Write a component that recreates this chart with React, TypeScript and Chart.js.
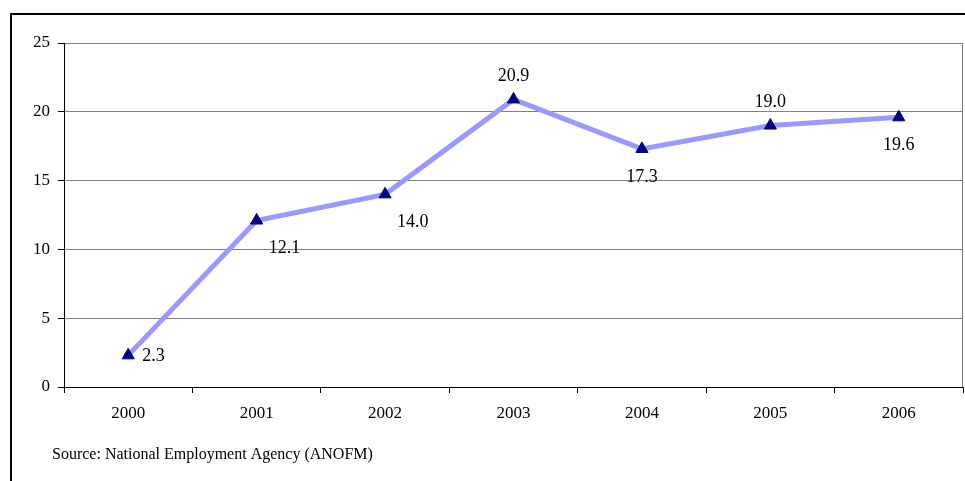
import React, { useEffect, useRef } from "react";
import { Chart, registerables } from "chart.js";

Chart.register(...registerables);

const years = ["2000", "2001", "2002", "2003", "2004", "2005", "2006"];
const values = [2.3, 12.1, 14.0, 20.9, 17.3, 19.0, 19.6];
const labelSpots = ["right", "belowRight", "belowRight", "above", "below", "above", "below"];
const sourceNote = "Source: National Employment Agency (ANOFM)";

const FONT = "'Liberation Serif', 'Times New Roman', serif";

const framePlugin = {
  id: "frame",
  beforeDraw(chart: any) {
    const ctx = chart.ctx;
    ctx.save();
    ctx.fillStyle = "#fff";
    ctx.fillRect(0, 0, chart.width, chart.height);
    ctx.strokeStyle = "#000";
    ctx.lineWidth = 2;
    ctx.beginPath();
    ctx.moveTo(11, chart.height);
    ctx.lineTo(11, 14);
    ctx.lineTo(chart.width, 14);
    ctx.stroke();
    ctx.restore();
  },
  afterDraw(chart: any) {
    const ctx = chart.ctx;
    const a = chart.chartArea;
    ctx.save();
    ctx.strokeStyle = "#808080";
    ctx.lineWidth = 1;
    ctx.beginPath();
    ctx.moveTo(Math.round(a.right) - 0.5, a.top);
    ctx.lineTo(Math.round(a.right) - 0.5, a.bottom);
    ctx.stroke();

    ctx.fillStyle = "#000";
    ctx.font = `18px ${FONT}`;
    ctx.textBaseline = "middle";
    const meta = chart.getDatasetMeta(0);
    meta.data.forEach((pt: any, i: number) => {
      const txt = values[i].toFixed(1);
      const spot = labelSpots[i];
      let x = pt.x;
      let y = pt.y;
      ctx.textAlign = "center";
      if (spot === "right") {
        ctx.textAlign = "left";
        x += 14;
        y += 1;
      } else if (spot === "belowRight") {
        ctx.textAlign = "left";
        x += 12;
        y += 28;
      } else if (spot === "above") {
        y -= 23;
      } else if (spot === "below") {
        y += 28;
      }
      ctx.fillText(txt, x, y);
    });

    ctx.textAlign = "left";
    ctx.font = `16px ${FONT}`;
    ctx.fillText(sourceNote, 52, 455);
    ctx.restore();
  },
};

export default function App() {
  const ref = useRef<HTMLCanvasElement>(null);
  useEffect(() => {
    const chart = new Chart(ref.current!, {
      type: "line",
      data: {
        labels: years,
        datasets: [
          {
            data: values,
            borderColor: "#9999FF",
            borderWidth: 5,
            pointStyle: "triangle",
            pointRadius: 7,
            pointHoverRadius: 7,
            pointBackgroundColor: "#000080",
            pointBorderColor: "#000080",
            pointBorderWidth: 1,
            tension: 0,
          },
        ],
      },
      options: {
        responsive: false,
        animation: false,
        events: [],
        layout: { autoPadding: false, padding: { left: 0, top: 43, right: 2, bottom: 0 } },
        plugins: {
          legend: { display: false },
          tooltip: { enabled: false },
        },
        scales: {
          x: {
            offset: true,
            grid: {
              offset: true,
              drawOnChartArea: false,
              drawTicks: true,
              tickLength: 6,
              color: "#000",
            },
            border: { color: "#000", width: 1 },
            ticks: {
              color: "#000",
              font: { family: FONT, size: 17 },
              padding: 10,
              maxRotation: 0,
            },
            afterFit(scale: any) {
              scale.height = 94;
            },
          },
          y: {
            min: 0,
            max: 25,
            ticks: {
              stepSize: 5,
              color: "#000",
              font: { family: FONT, size: 17 },
              padding: 8,
            },
            grid: {
              color: "#808080",
              tickColor: "#000",
              tickLength: 6,
            },
            border: { color: "#000", width: 1 },
            afterFit(scale: any) {
              scale.width = 64;
            },
          },
        },
      },
      plugins: [framePlugin],
    });
    return () => chart.destroy();
  }, []);
  return (
    <div style={{ position: "absolute", left: 0, top: 0, width: 965, height: 481 }}>
      <canvas ref={ref} width={965} height={481} style={{ width: 965, height: 481 }} />
    </div>
  );
}
